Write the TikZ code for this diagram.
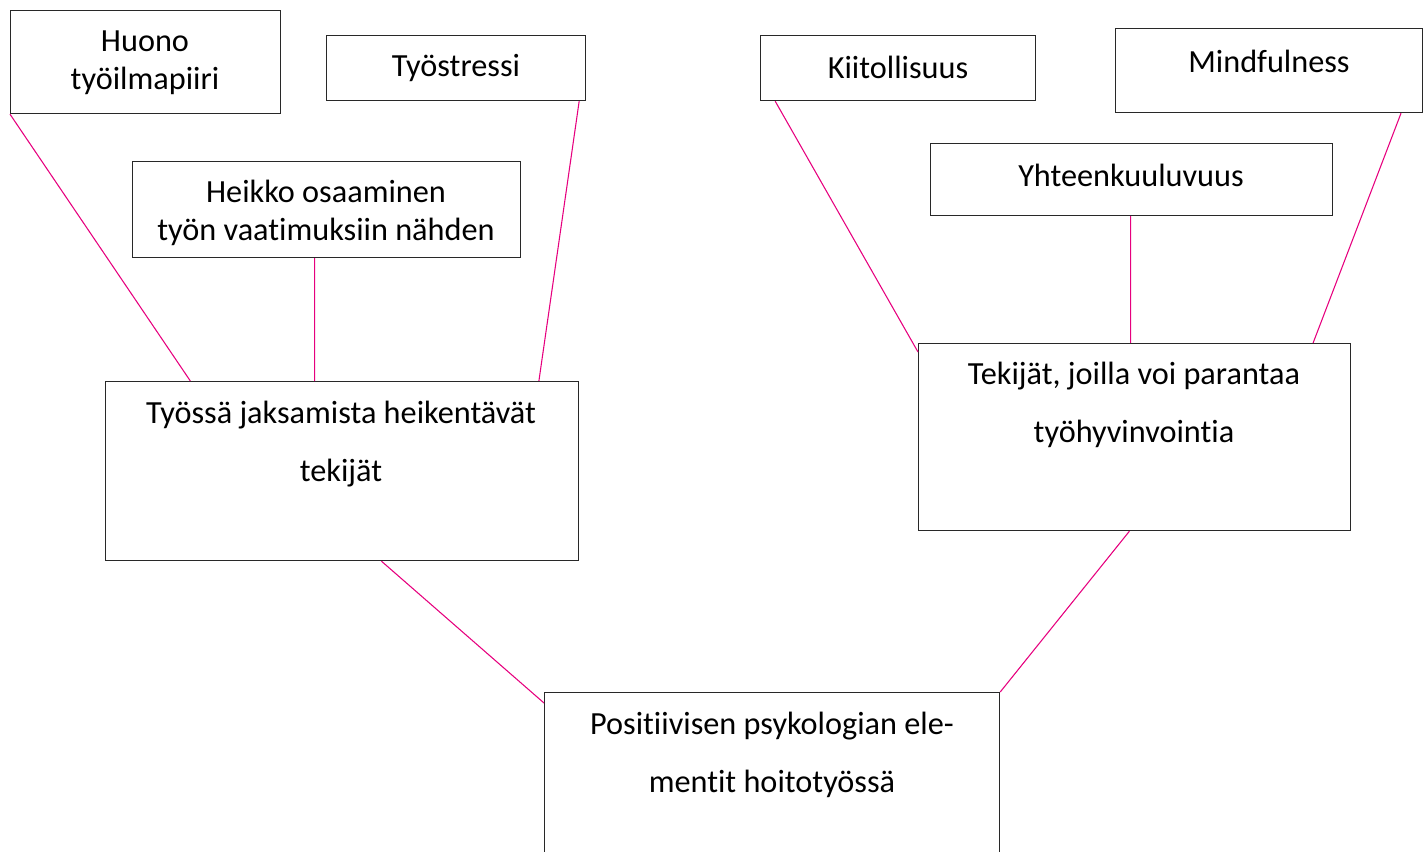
\documentclass[tikz,border=0pt]{standalone}
\usepackage{fontspec}
\setmainfont{Carlito}[Ligatures={NoCommon,NoContextual}]
\usetikzlibrary{calc}
\definecolor{connc}{RGB}{230,0,126}
\definecolor{boxc}{RGB}{40,40,40}
\begin{document}
\begin{tikzpicture}[x=0.75pt,y=-0.75pt,
  box/.style={draw=boxc, line width=0.9pt, inner sep=0pt, anchor=north west},
  lbl/.style={font=\fontsize{24.2}{28.5}\selectfont, align=center, inner sep=0pt},
  lblwide/.style={font=\fontsize{24.2}{43.5}\selectfont, align=center, inner sep=0pt},
  conn/.style={draw=connc, line width=0.8pt}]
\useasboundingbox (0,0) rectangle (1428,852);
\clip (0,0) rectangle (1428,852);
% boxes
\node[box, minimum width=202.5pt, minimum height=77.25pt] (huono) at (10,10) {};
\node[box, minimum width=194.25pt, minimum height=48.75pt] (stressi) at (326,35) {};
\node[box, minimum width=291pt, minimum height=72pt] (heikko) at (132,161) {};
\node[box, minimum width=354.75pt, minimum height=134.25pt] (tyossa) at (105,381) {};
\node[box, minimum width=206.25pt, minimum height=48.75pt] (kiitos) at (760,35) {};
\node[box, minimum width=230.25pt, minimum height=63pt] (mindful) at (1115,28) {};
\node[box, minimum width=301.5pt, minimum height=54pt] (yhteen) at (930,143) {};
\node[box, minimum width=324pt, minimum height=140.25pt] (tekijat) at (918,343) {};
\node[box, minimum width=341.25pt, minimum height=150pt] (posit) at (544,692) {};
% texts
\node[lbl] (thuono) at (145,63) {Huono\\työilmapiiri};
\node[lbl] (tstressi) at (456,68) {Työstressi};
\node[lbl] (theikko) at (326,213) {Heikko osaaminen\\työn vaatimuksiin nähden};
\node[lblwide] (ttyossa) at (341,444) {Työssä jaksamista heikentävät\\tekijät};
\node[lbl] (tkiitos) at (898,67) {Kiitollisuus};
\node[lbl] (tmindful) at (1269,61) {Mindfulness};
\node[lbl] (tyhteen) at (1131,175) {Yhteenkuuluvuus};
\node[lblwide] (ttekijat) at (1134,405) {Tekijät, joilla voi parantaa\\työhyvinvointia};
\node[lblwide] (tposit) at (772,755) {Positiivisen psykologian ele-\\mentit hoitotyössä};
% connectors
\draw[conn] (huono.south west) -- ($(tyossa.north west)!0.18!(tyossa.north east)$);
\draw[conn] ($(heikko.south west)!0.469!(heikko.south east)$) -- ($(tyossa.north west)!0.442!(tyossa.north east)$);
\draw[conn] ($(stressi.south west)!0.973!(stressi.south east)$) -- ($(tyossa.north west)!0.915!(tyossa.north east)$);
\draw[conn] ($(tyossa.south west)!0.583!(tyossa.south east)$) -- ($(posit.north west)+(0,11)$);
\draw[conn] ($(tekijat.south west)!0.488!(tekijat.south east)$) -- (posit.north east);
\draw[conn] ($(kiitos.south west)!0.055!(kiitos.south east)$) -- ($(tekijat.north west)+(0,9)$);
\draw[conn] ($(yhteen.south west)!0.4975!(yhteen.south east)$) -- ($(tekijat.north west)!0.491!(tekijat.north east)$);
\draw[conn] ($(mindful.south west)!0.928!(mindful.south east)$) -- ($(tekijat.north west)!0.912!(tekijat.north east)$);
\end{tikzpicture}
\end{document}
